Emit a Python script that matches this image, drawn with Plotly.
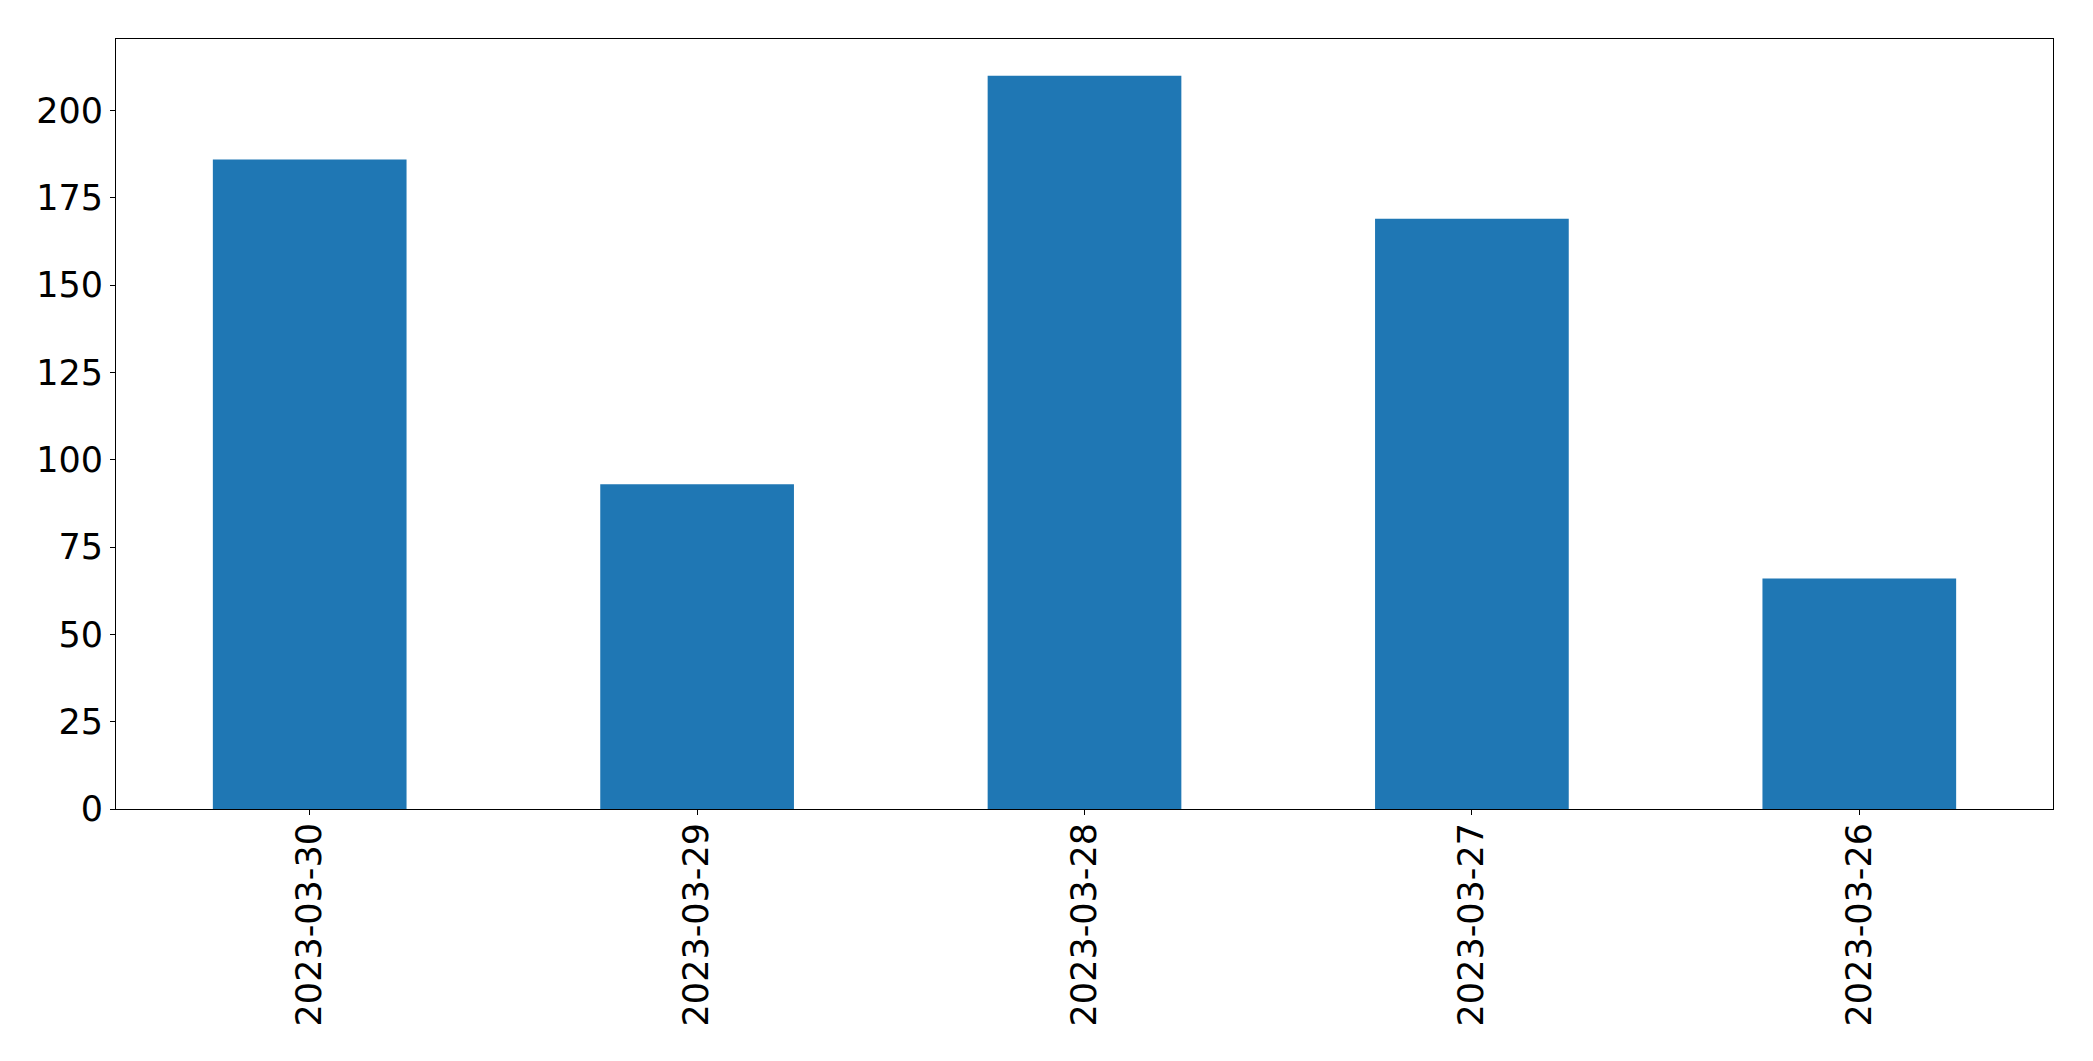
import plotly.graph_objects as go

dates = ["2023-03-30", "2023-03-29", "2023-03-28", "2023-03-27", "2023-03-26"]
counts = [186, 93, 210, 169, 66]
y_ticks = [0, 25, 50, 75, 100, 125, 150, 175, 200]

fig = go.Figure(
    go.Bar(x=dates, y=counts, marker=dict(color="#1f77b4", line=dict(width=0)), width=0.5)
)

axis_common = dict(
    showline=True, linecolor="black", linewidth=1, mirror=True,
    ticks="outside", ticklen=5, tickwidth=1, tickcolor="black",
    showgrid=False, zeroline=False,
    tickfont=dict(family="DejaVu Sans", size=35, color="black"),
)

fig.update_layout(
    width=2093, height=1061,
    margin=dict(l=108, r=48, t=31, b=260),
    paper_bgcolor="white", plot_bgcolor="white",
    showlegend=False, bargap=0.5,
    xaxis=dict(type="category", range=[-0.5, 4.5], tickangle=-90, ticklabelstandoff=-6, **axis_common),
    yaxis=dict(range=[0, 220.5], tickvals=y_ticks, ticktext=[str(v) for v in y_ticks], **axis_common),
)

fig.write_html("out.html")
